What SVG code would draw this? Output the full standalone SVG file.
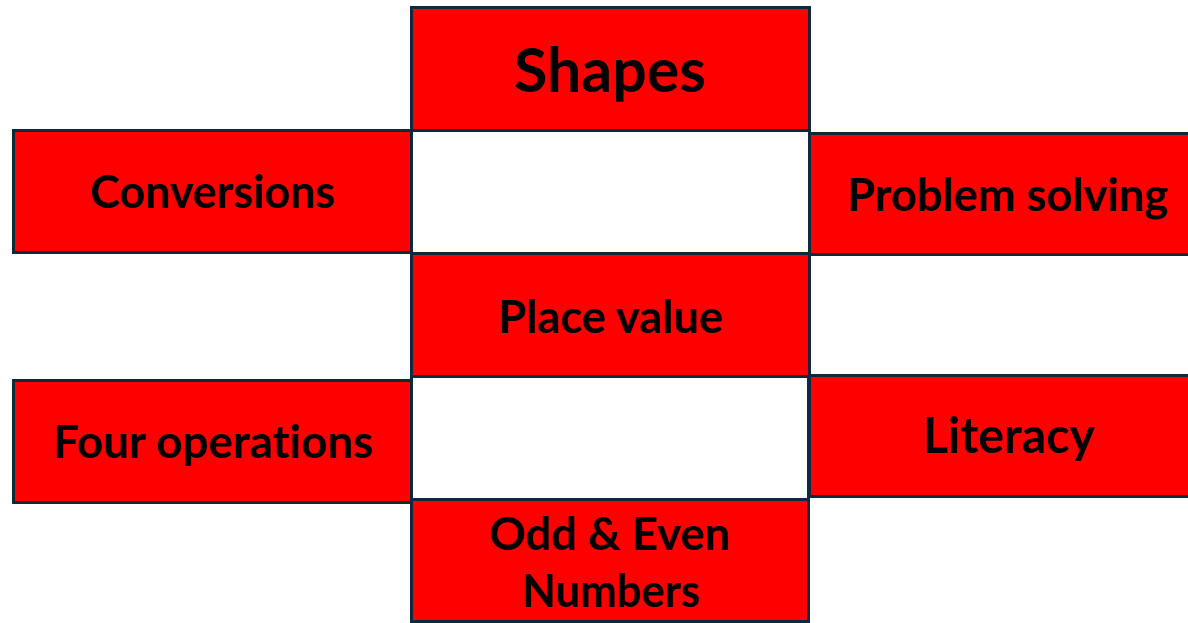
<svg xmlns="http://www.w3.org/2000/svg" width="1188" height="623" viewBox="0 0 1188 623">
<style>
.box{fill:#FF0000;stroke:#10293A;stroke-width:3}
.blank{fill:#FFFFFF;stroke:#10293A;stroke-width:3}
.t{font-family:Lato,"Liberation Sans",sans-serif;font-weight:700;fill:#000;text-anchor:middle;font-variant-ligatures:none}
</style>
<rect width="1188" height="623" fill="#FFFFFF"/>
<g id="blank1"><rect class="blank" x="411.5" y="130.5" width="398" height="123"/></g>
<g id="blank2"><rect class="blank" x="411.5" y="376.5" width="397" height="123"/></g>
<g id="shapes"><rect class="box" x="411.5" y="7.5" width="398" height="123"/><text class="t" x="610" y="92" font-size="62" textLength="192" lengthAdjust="spacingAndGlyphs">Shapes</text></g>
<g id="conversions"><rect class="box" x="13.5" y="130.5" width="398" height="122"/><text class="t" x="212.5" y="208" font-size="46" textLength="245" lengthAdjust="spacingAndGlyphs">Conversions</text></g>
<g id="problem-solving"><rect class="box" x="809.5" y="133.5" width="400" height="121"/><text class="t" x="1007.5" y="211" font-size="46" textLength="321" lengthAdjust="spacingAndGlyphs">Problem solving</text></g>
<g id="place-value"><rect class="box" x="411.5" y="253.5" width="398" height="123"/><text class="t" x="610.5" y="333" font-size="46" textLength="225" lengthAdjust="spacingAndGlyphs">Place value</text></g>
<g id="four-operations"><rect class="box" x="13.5" y="380.5" width="398" height="122"/><text class="t" x="213" y="458" font-size="46" textLength="320" lengthAdjust="spacingAndGlyphs">Four operations</text></g>
<g id="literacy"><rect class="box" x="809.5" y="375.5" width="400" height="121"/><text class="t" x="1009" y="453" font-size="50" textLength="172" lengthAdjust="spacingAndGlyphs">Literacy</text></g>
<g id="odd-even"><rect class="box" x="411.5" y="499.5" width="397" height="122"/><text class="t" x="609.5" y="550" font-size="46" textLength="241" lengthAdjust="spacingAndGlyphs">Odd &amp; Even</text><text class="t" x="611" y="607" font-size="46" textLength="178" lengthAdjust="spacingAndGlyphs">Numbers</text></g>
<g id="connectors"></g>
</svg>
